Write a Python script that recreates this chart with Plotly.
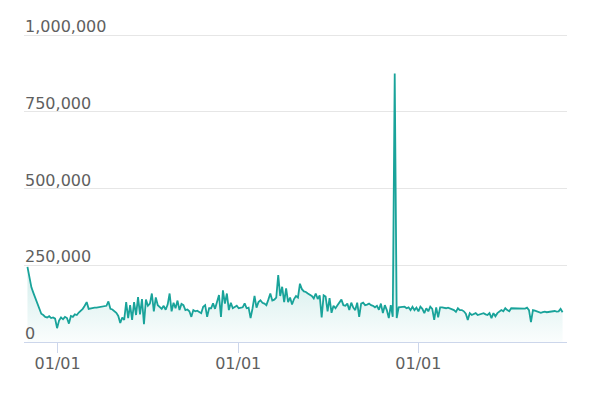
import pandas as pd
import plotly.graph_objects as go

start_date = "2019-11-01"
step_days = 4

values_k = [
    245, 215, 178, 160, 143, 125, 105, 92, 88, 82,
    80, 84, 78, 80, 76, 45, 70, 80, 74, 82,
    78, 60, 85, 82, 90, 88, 96, 102, 108, 118,
    130, 108, 110, 110, 112, 112, 113, 113, 114, 115,
    118, 132, 108, 106, 100, 95, 85, 62, 80, 72,
    130, 78, 120, 72, 130, 88, 146, 90, 140, 58,
    138, 118, 125, 158, 100, 145, 120, 113, 108, 118,
    105, 122, 158, 100, 128, 110, 135, 104, 124, 120,
    104, 106, 100, 82, 104, 100, 102, 98, 94, 115,
    120, 82, 110, 110, 126, 108, 130, 153, 82, 168,
    125, 158, 104, 128, 110, 115, 118, 110, 112, 113,
    126, 110, 112, 78, 110, 150, 112, 130, 136, 128,
    125, 120, 138, 158, 135, 138, 145, 218, 150, 180,
    130, 175, 130, 145, 122, 140, 150, 145, 190, 172,
    165, 163, 158, 155, 150, 142, 158, 140, 152, 80,
    152, 148, 100, 143, 95, 118, 110, 120, 130, 138,
    120, 118, 125, 104, 128, 112, 104, 128, 82, 125,
    128, 120, 122, 125, 120, 118, 113, 118, 105, 125,
    94, 120, 104, 78, 120, 82, 875, 78, 113, 113,
    114, 115, 110, 113, 104, 115, 104, 112, 100, 115,
    108, 94, 110, 100, 115, 108, 72, 113, 80, 113,
    113, 112, 110, 112, 110, 108, 104, 98, 110, 104,
    104, 100, 92, 72, 94, 88, 92, 94, 88, 90,
    92, 94, 90, 88, 94, 78, 94, 84, 94, 99,
    104, 100, 110, 104, 100, 110, 110, 108, 110, 110,
    110, 109, 109, 112, 104, 65, 104, 102, 100, 98,
    95, 97, 99, 97, 98, 99, 100, 101, 99, 100, 108, 97,
]
values = [v * 1000 for v in values_k]
dates = pd.date_range(start_date, periods=len(values), freq=f"{step_days}D")

y_ticks = [0, 250000, 500000, 750000, 1000000]
y_tick_labels = ["0", "250,000", "500,000", "750,000", "1,000,000"]
x_ticks = ["2020-01-01", "2021-01-01", "2022-01-01"]
x_tick_labels = ["01/01", "01/01", "01/01"]

LINE = "#19a39a"
FONT = "DejaVu Sans"
TEXT = "#5f5f5f"

fig = go.Figure()
fig.add_trace(go.Scatter(
    x=dates, y=values, mode="lines",
    line=dict(color=LINE, width=1.8),
    fill="tozeroy",
    fillgradient=dict(
        type="vertical", start=0, stop=250000,
        colorscale=[[0, "rgba(25,163,154,0.02)"], [1, "rgba(25,163,154,0.2)"]],
    ),
    hoverinfo="skip",
))

for v, lab in zip(y_ticks, y_tick_labels):
    fig.add_annotation(
        x=0, xref="paper", y=v, yref="y", text=lab, showarrow=False,
        xanchor="left", yanchor="bottom", yshift=-3, xshift=-1,
        font=dict(family=FONT, size=16, color=TEXT),
    )

fig.update_layout(
    width=587, height=386,
    margin=dict(l=16, r=28, t=24, b=52),
    paper_bgcolor="white", plot_bgcolor="white",
    showlegend=False,
    xaxis=dict(
        range=["2019-10-25", "2022-10-29"],
        tickmode="array", tickvals=x_ticks, ticktext=x_tick_labels,
        ticks="outside", ticklen=10, tickcolor="#ccd6eb", tickwidth=1,
        ticklabelstandoff=-3,
        showgrid=False, showline=True, linecolor="#ccd6eb", linewidth=1,
        tickfont=dict(family=FONT, size=16, color=TEXT),
        zeroline=False,
    ),
    yaxis=dict(
        range=[0, 1010000], tickvals=y_ticks, showticklabels=False,
        showgrid=True, gridcolor="#e6e6e6", gridwidth=1,
        zeroline=False, showline=False,
    ),
)

fig.write_html("out.html")
